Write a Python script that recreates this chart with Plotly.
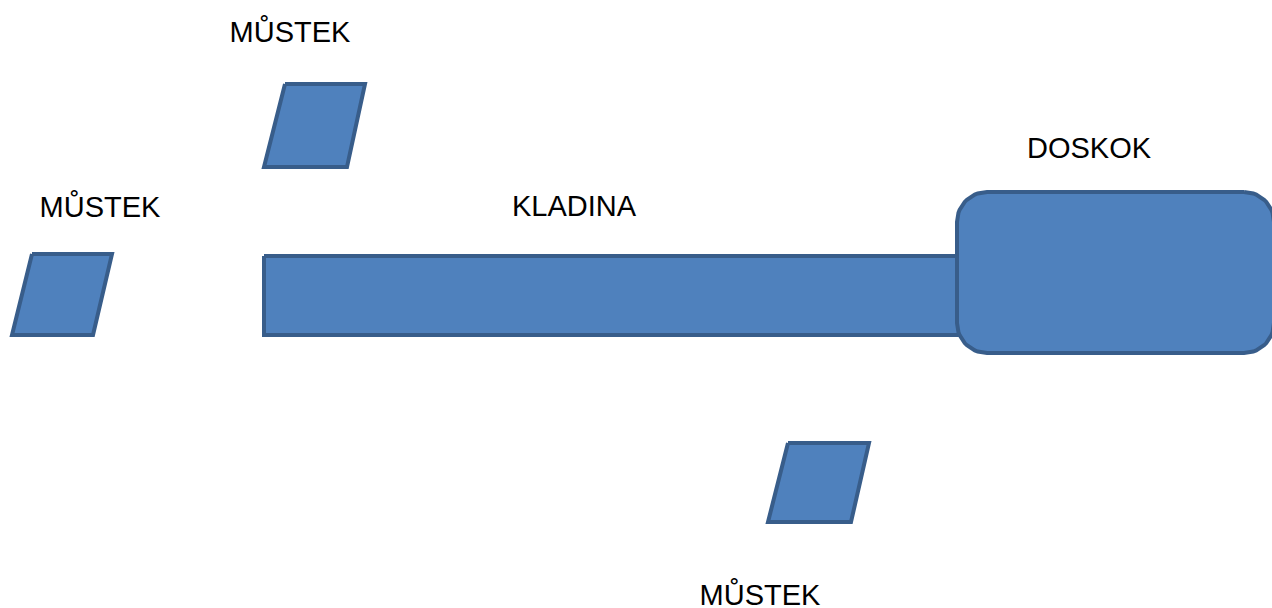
import numpy as np
import plotly.graph_objects as go

# Diagram data (pixel-space coordinates of the stations)
labels = ["MŮSTEK", "MŮSTEK", "KLADINA", "DOSKOK", "MŮSTEK"]
label_x = [100, 290, 574, 1089, 760]
label_y = [210, 35, 209, 151, 598]

# parallelograms: (top-left x, top-right x, bottom-right x, bottom-left x, top y, bottom y)
para_top_left = [32, 285, 788]
para_top_right = [112, 365, 869]
para_bot_right = [93, 347, 851]
para_bot_left = [12, 264, 768]
para_top_y = [254, 84, 443]
para_bot_y = [335, 167, 522]

# beam (kladina)
beam_x = [264, 960]
beam_y = [256, 335]

# landing (doskok) rounded rectangle
land_x = [957, 1274]
land_y = [192, 353]
land_r = 30

FILL = "#4F81BD"
EDGE = "#385D8A"

fig = go.Figure()

# beam
fig.add_trace(go.Scatter(
    x=[beam_x[0], beam_x[1], beam_x[1], beam_x[0], beam_x[0]],
    y=[beam_y[0], beam_y[0], beam_y[1], beam_y[1], beam_y[0]],
    mode="lines", fill="toself", fillcolor=FILL,
    line=dict(color=EDGE, width=4), hoverinfo="skip", showlegend=False))

# rounded landing
def rounded_rect(x0, x1, y0, y1, r, n=16):
    xs, ys = [], []
    corners = [
        (x1 - r, y0 + r, -np.pi / 2, 0),
        (x1 - r, y1 - r, 0, np.pi / 2),
        (x0 + r, y1 - r, np.pi / 2, np.pi),
        (x0 + r, y0 + r, np.pi, 1.5 * np.pi),
    ]
    for cx, cy, a0, a1 in corners:
        t = np.linspace(a0, a1, n)
        xs.extend(cx + r * np.cos(t))
        ys.extend(cy + r * np.sin(t))
    xs.append(xs[0]); ys.append(ys[0])
    return xs, ys

rx, ry = rounded_rect(land_x[0], land_x[1], land_y[0], land_y[1], land_r)
fig.add_trace(go.Scatter(
    x=rx, y=ry, mode="lines", fill="toself", fillcolor=FILL,
    line=dict(color=EDGE, width=4), hoverinfo="skip", showlegend=False,
    cliponaxis=True))

# parallelograms
for i in range(len(para_top_left)):
    fig.add_trace(go.Scatter(
        x=[para_top_left[i], para_top_right[i], para_bot_right[i], para_bot_left[i], para_top_left[i]],
        y=[para_top_y[i], para_top_y[i], para_bot_y[i], para_bot_y[i], para_top_y[i]],
        mode="lines", fill="toself", fillcolor=FILL,
        line=dict(color=EDGE, width=4), hoverinfo="skip", showlegend=False))

# labels
fig.add_trace(go.Scatter(
    x=label_x, y=label_y, mode="text", text=labels,
    textfont=dict(family="Liberation Sans, Arial, sans-serif", size=29, color="#000000"),
    textposition="middle center", hoverinfo="skip", showlegend=False,
    cliponaxis=False))

fig.update_layout(
    width=1272, height=608,
    margin=dict(l=0, r=0, t=0, b=0),
    paper_bgcolor="white", plot_bgcolor="white",
    xaxis=dict(range=[0, 1272], visible=False, fixedrange=True),
    yaxis=dict(range=[608, 0], visible=False, fixedrange=True),
)

fig.write_html(
    "out.html",
    config={"displayModeBar": False},
    post_script="document.body.style.margin='0';document.body.style.overflow='hidden';",
)
